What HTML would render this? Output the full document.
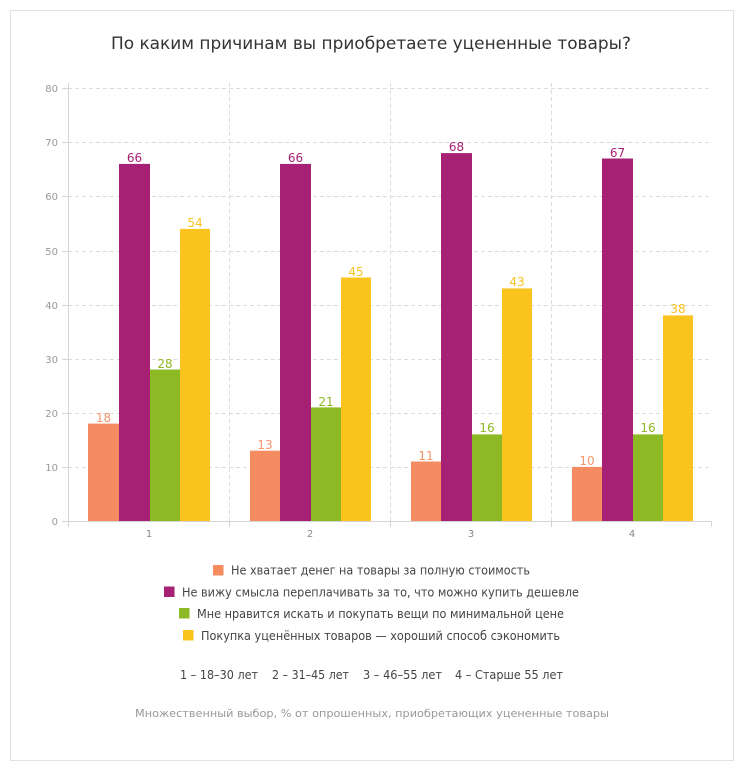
<!DOCTYPE html>
<html><head><meta charset="utf-8"><style>
html,body{margin:0;padding:0;background:#fff;}
svg{display:block;font-family:"DejaVu Sans","Liberation Sans",sans-serif;}
</style></head><body>
<svg width="750" height="775" viewBox="0 0 750 775" xmlns="http://www.w3.org/2000/svg">
<rect x="10.5" y="10.5" width="723" height="750" fill="#fff" stroke="#e2e2e2" stroke-width="1"/>
<text x="111" y="49" font-size="17" fill="#333" textLength="520" lengthAdjust="spacingAndGlyphs">По каким причинам вы приобретаете уцененные товары?</text>

<g stroke="#dcdcdc" stroke-width="1" stroke-dasharray="4,3" fill="none">
<line x1="68" y1="88.5" x2="711" y2="88.5"/>
<line x1="68" y1="142.5" x2="711" y2="142.5"/>
<line x1="68" y1="196.5" x2="711" y2="196.5"/>
<line x1="68" y1="251.5" x2="711" y2="251.5"/>
<line x1="68" y1="305.5" x2="711" y2="305.5"/>
<line x1="68" y1="359.5" x2="711" y2="359.5"/>
<line x1="68" y1="413.5" x2="711" y2="413.5"/>
<line x1="68" y1="467.5" x2="711" y2="467.5"/>
<line x1="229.5" y1="83" x2="229.5" y2="521"/>
<line x1="390.5" y1="83" x2="390.5" y2="521"/>
<line x1="551.5" y1="83" x2="551.5" y2="521"/>
</g>

<g stroke="#d4d4d4" stroke-width="1">
<line x1="68.5" y1="83" x2="68.5" y2="527"/>
<line x1="62" y1="88.5" x2="68" y2="88.5"/>
<line x1="62" y1="142.5" x2="68" y2="142.5"/>
<line x1="62" y1="196.5" x2="68" y2="196.5"/>
<line x1="62" y1="251.5" x2="68" y2="251.5"/>
<line x1="62" y1="305.5" x2="68" y2="305.5"/>
<line x1="62" y1="359.5" x2="68" y2="359.5"/>
<line x1="62" y1="413.5" x2="68" y2="413.5"/>
<line x1="62" y1="467.5" x2="68" y2="467.5"/>
<line x1="62" y1="521.5" x2="712" y2="521.5"/>
<line x1="229.5" y1="521" x2="229.5" y2="527"/>
<line x1="390.5" y1="521" x2="390.5" y2="527"/>
<line x1="551.5" y1="521" x2="551.5" y2="527"/>
<line x1="711.5" y1="521" x2="711.5" y2="527"/>
</g>

<g font-size="10" fill="#999" text-anchor="end">
<text x="58" y="92">80</text>
<text x="58" y="146">70</text>
<text x="58" y="200">60</text>
<text x="58" y="255">50</text>
<text x="58" y="309">40</text>
<text x="58" y="363">30</text>
<text x="58" y="417">20</text>
<text x="58" y="471">10</text>
<text x="58" y="525">0</text>
</g>
<g font-size="10" fill="#888" text-anchor="middle">
<text x="149" y="537">1</text>
<text x="310" y="537">2</text>
<text x="471" y="537">3</text>
<text x="632" y="537">4</text>
</g>

<!-- group 1 -->
<rect x="88" y="423.6" width="31" height="97.4" fill="#F58B60"/>
<rect x="119" y="163.9" width="31" height="357.1" fill="#A62173"/>
<rect x="150" y="369.5" width="30" height="151.5" fill="#8DB924"/>
<rect x="180" y="228.9" width="30" height="292.1" fill="#FAC31E"/>
<!-- group 2 -->
<rect x="250" y="450.7" width="30" height="70.3" fill="#F58B60"/>
<rect x="280" y="163.9" width="31" height="357.1" fill="#A62173"/>
<rect x="311" y="407.4" width="30" height="113.6" fill="#8DB924"/>
<rect x="341" y="277.5" width="30" height="243.5" fill="#FAC31E"/>
<!-- group 3 -->
<rect x="411" y="461.5" width="30" height="59.5" fill="#F58B60"/>
<rect x="441" y="153.1" width="31" height="367.9" fill="#A62173"/>
<rect x="472" y="434.4" width="30" height="86.6" fill="#8DB924"/>
<rect x="502" y="288.4" width="30" height="232.6" fill="#FAC31E"/>
<!-- group 4 -->
<rect x="572" y="466.9" width="30" height="54.1" fill="#F58B60"/>
<rect x="602" y="158.5" width="31" height="362.5" fill="#A62173"/>
<rect x="633" y="434.4" width="30" height="86.6" fill="#8DB924"/>
<rect x="663" y="315.4" width="30" height="205.6" fill="#FAC31E"/>

<g font-size="12" text-anchor="middle">
<text x="103.5" y="422" fill="#F7946A">18</text>
<text x="134.5" y="162" fill="#A62173">66</text>
<text x="165" y="368" fill="#8DB924">28</text>
<text x="195" y="227" fill="#FAC31E">54</text>

<text x="265" y="449" fill="#F7946A">13</text>
<text x="295.5" y="162" fill="#A62173">66</text>
<text x="326" y="406" fill="#8DB924">21</text>
<text x="356" y="276" fill="#FAC31E">45</text>

<text x="426" y="460" fill="#F7946A">11</text>
<text x="456.5" y="151" fill="#A62173">68</text>
<text x="487" y="432" fill="#8DB924">16</text>
<text x="517" y="286" fill="#FAC31E">43</text>

<text x="587" y="465" fill="#F7946A">10</text>
<text x="617.5" y="157" fill="#A62173">67</text>
<text x="648" y="432" fill="#8DB924">16</text>
<text x="678" y="313" fill="#FAC31E">38</text>
</g>

<!-- legend -->
<rect x="213" y="565" width="10.5" height="10.5" fill="#F58B60"/>
<text x="231" y="574.5" font-size="12" fill="#444" textLength="299" lengthAdjust="spacingAndGlyphs">Не хватает денег на товары за полную стоимость</text>
<rect x="164" y="586.5" width="10.5" height="10.5" fill="#A62173"/>
<text x="182" y="596.5" font-size="12" fill="#444" textLength="397" lengthAdjust="spacingAndGlyphs">Не вижу смысла переплачивать за то, что можно купить дешевле</text>
<rect x="179" y="608" width="10.5" height="10.5" fill="#8DB924"/>
<text x="197" y="618" font-size="12" fill="#444" textLength="367" lengthAdjust="spacingAndGlyphs">Мне нравится искать и покупать вещи по минимальной цене</text>
<rect x="183" y="630" width="10.5" height="10.5" fill="#FAC31E"/>
<text x="201" y="640" font-size="12" fill="#444" textLength="359" lengthAdjust="spacingAndGlyphs">Покупка уценённых товаров — хороший способ сэкономить</text>

<g font-size="12" fill="#444">
<text x="180" y="679" textLength="78" lengthAdjust="spacingAndGlyphs">1 – 18–30 лет</text>
<text x="272" y="679" textLength="77" lengthAdjust="spacingAndGlyphs">2 – 31–45 лет</text>
<text x="363" y="679" textLength="79" lengthAdjust="spacingAndGlyphs">3 – 46–55 лет</text>
<text x="455" y="679" textLength="108" lengthAdjust="spacingAndGlyphs">4 – Старше 55 лет</text>
</g>

<text x="135" y="717" font-size="11" fill="#999" textLength="474" lengthAdjust="spacingAndGlyphs">Множественный выбор, % от опрошенных, приобретающих уцененные товары</text>
</svg>
</body></html>
